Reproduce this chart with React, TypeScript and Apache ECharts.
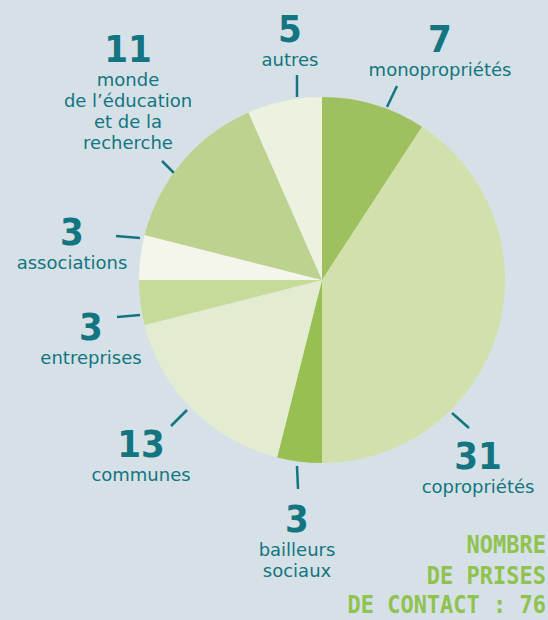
import React, { useEffect, useRef } from "react";
import * as echarts from "echarts";

// ---- data ----
const CATEGORIES = [
  "monopropriétés",
  "copropriétés",
  "bailleurs sociaux",
  "communes",
  "entreprises",
  "associations",
  "monde de l’éducation et de la recherche",
  "autres",
];
const VALUES = [7, 31, 3, 13, 3, 3, 11, 5];
const LABEL_TEXT_LINES = [
  ["monopropriétés"],
  ["copropriétés"],
  ["bailleurs", "sociaux"],
  ["communes"],
  ["entreprises"],
  ["associations"],
  ["monde", "de l’éducation", "et de la", "recherche"],
  ["autres"],
];
const TOTAL_LINES = ["NOMBRE", "DE PRISES", "DE CONTACT : 76"];

// ---- styles / layout ----
const COLORS = ["#9fc05f", "#d2e0ac", "#98bf52", "#e3ecd0", "#c6da9a", "#f4f6ec", "#bcd28f", "#ecf2df"];
const TEAL = "#127581";
const GREEN = "#8fc24f";
const BG = "#d6e1e7";
// label anchor: [centre x, top of the number's capitals]
const LABEL_ANCHORS = [
  [440, 25],
  [478, 442],
  [297, 505],
  [141, 430],
  [91, 313],
  [72, 218],
  [128, 35],
  [290, 15],
];
// label line: [x0, y0, x1, y1]
const LABEL_LINES = [
  [387, 107, 397, 86],
  [452, 413, 469, 428],
  [297, 466, 298, 489],
  [187, 410, 171, 426],
  [140, 315, 117, 317],
  [140, 238, 116, 236],
  [175, 174, 162, 161],
  [297, 97, 297, 75],
];
// top of each line of the total text box
const TOTAL_TOPS = [532, 563, 592];

export default function App() {
  const ref = useRef<HTMLDivElement>(null);
  useEffect(() => {
    if (!ref.current) return;
    const chart = echarts.init(ref.current, null, { renderer: "svg" });
    const numFont = '"DejaVu Sans Condensed", sans-serif';
    chart.setOption({
      animation: false,
      backgroundColor: BG,
      series: [
        {
          type: "pie",
          center: [322, 280],
          radius: [0, 183],
          startAngle: 90,
          clockwise: true,
          silent: true,
          itemStyle: { borderWidth: 0 },
          data: CATEGORIES.map((name, i) => ({
            name,
            value: VALUES[i],
            itemStyle: { color: COLORS[i] },
          })),
          label: {
            show: true,
            position: "outside",
            overflow: "none",
            edgeDistance: 0,
            formatter: (p: any) =>
              `{n|${p.value}}\n` + LABEL_TEXT_LINES[p.dataIndex].map((l) => `{t|${l}}`).join("\n"),
            rich: {
              n: {
                fontFamily: numFont,
                fontWeight: "bold",
                fontSize: 38,
                lineHeight: 40,
                color: TEAL,
                align: "center",
              },
              t: {
                fontFamily: '"DejaVu Sans", sans-serif',
                fontSize: 18,
                lineHeight: 21,
                color: TEAL,
                align: "center",
              },
            },
          },
          labelLine: {
            show: true,
            length: 10,
            length2: 0,
            lineStyle: { color: TEAL, width: 2.5 },
          },
          labelLayout: (params: any) => {
            const i = params.dataIndex;
            const [x0, y0, x1, y1] = LABEL_LINES[i];
            return {
              x: LABEL_ANCHORS[i][0],
              y: LABEL_ANCHORS[i][1] - 6,
              align: "center",
              verticalAlign: "top",
              labelLinePoints: [
                [x0, y0],
                [x1, y1],
                [x1, y1],
              ],
            };
          },
        },
      ],
      graphic: TOTAL_LINES.map((t, i) => ({
        type: "text",
        x: 546,
        y: TOTAL_TOPS[i],
        scaleY: 1.12,
        style: {
          text: t,
          fill: GREEN,
          font: 'bold 22px "DejaVu Sans Mono", monospace',
          align: "right",
          verticalAlign: "top",
          lineHeight: 22,
        },
      })),
    });
    return () => chart.dispose();
  }, []);
  return (
    <div
      ref={ref}
      style={{ position: "fixed", left: 0, top: 0, width: 548, height: 620 }}
    />
  );
}
